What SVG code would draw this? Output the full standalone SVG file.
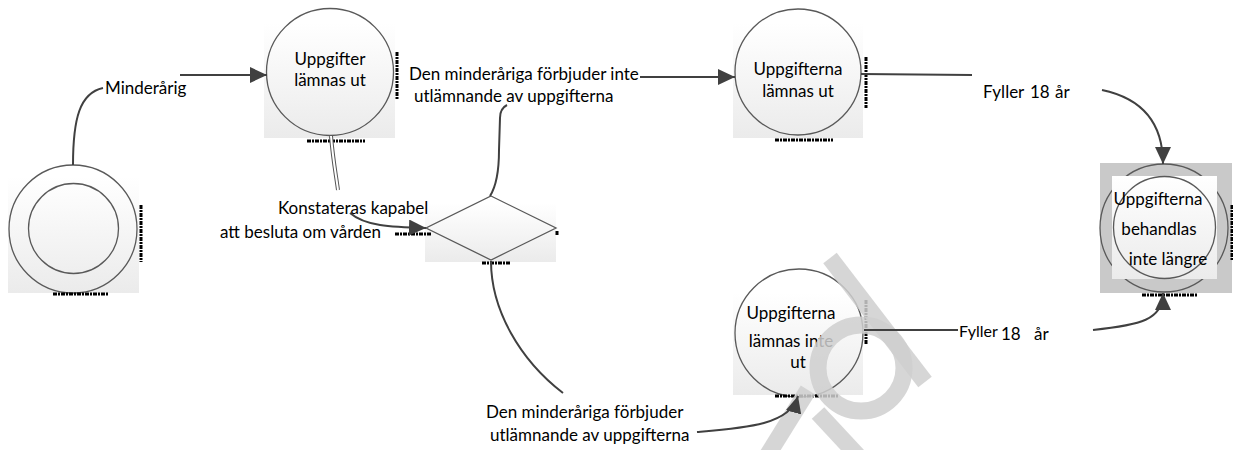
<svg xmlns="http://www.w3.org/2000/svg" width="1233" height="450" viewBox="0 0 1233 450">
<style>
.bg{fill:url(#gr)}
.ring{fill:none;stroke:#595959;stroke-width:1.3}
.conn{fill:none;stroke:#404040;stroke-width:2}
.art{stroke:#000;stroke-width:3;stroke-dasharray:4 1 2 1;fill:none}
.wm{fill:none;stroke:#cfcfcf;stroke-width:17;stroke-opacity:0.85}
text{font-family:Lato,"Liberation Sans",sans-serif;font-size:17px;fill:#000}
.c{text-anchor:middle}
</style>
<defs>
<linearGradient id="gr" x1="0" y1="0" x2="0" y2="1">
<stop offset="0" stop-color="#ffffff"/>
<stop offset="1" stop-color="#ebebeb"/>
</linearGradient>
<marker id="ah" markerUnits="userSpaceOnUse" markerWidth="18" markerHeight="16" refX="17" refY="8" orient="auto">
<path d="M0,0 L17,8 L0,16 z" fill="#404040"/>
</marker>
</defs>

<g id="start">
<rect class="bg" x="8" y="177" width="131" height="116"/>
<circle class="ring" cx="73" cy="229" r="64"/>
<circle class="ring" cx="73.5" cy="228.5" r="45"/>
<path class="art" d="M141,205 V262 M53,294 H108"/>
</g>

<g id="n1">
<rect class="bg" x="264" y="23" width="131" height="115"/>
<circle class="ring" cx="330" cy="72" r="63.5"/>
<text class="c" x="330" y="65">Uppgifter</text>
<text class="c" x="330" y="86">lämnas ut</text>
<path class="art" d="M397,52 V100 M307,141 H365"/>
</g>

<g id="decision">
<rect class="bg" x="425" y="203" width="131" height="59"/>
<path class="ring" d="M491,196 L556,228 L491,260 L426,228 z"/>
<path class="art" d="M395,234 H432 M557,231 V236 M482,263 H510"/>
</g>

<g id="n2">
<rect class="bg" x="733" y="23" width="130" height="115"/>
<circle class="ring" cx="798" cy="72" r="63"/>
<text class="c" x="798" y="75">Uppgifterna</text>
<text class="c" x="798" y="97">lämnas ut</text>
<path class="art" d="M866,57 V108 M775,140 H833"/>
</g>

<g id="n3">
<rect class="bg" x="733" y="293" width="130" height="102"/>
<circle class="ring" cx="799" cy="333" r="64"/>
<text class="c" x="791" y="319">Uppgifterna</text>
<text class="c" x="791" y="347">lämnas inte</text>
<text class="c" x="798" y="368">ut</text>
<path class="art" d="M866,300 V345 M775,396 H838"/>
</g>

<g id="end">
<rect x="1100" y="163" width="132" height="130" fill="#c9c9c9"/>
<circle class="ring" cx="1164" cy="228" r="64"/>
<rect class="bg" x="1112" y="176" width="105" height="103"/>
<circle class="ring" cx="1164.5" cy="227.5" r="51"/>
<text class="c" x="1158" y="205">Uppgifterna</text>
<text class="c" x="1159" y="235">behandlas</text>
<text class="c" x="1168" y="265">inte längre</text>
<path class="art" d="M1232,205 V260 M1142,295 H1198"/>
</g>

<g id="watermark">
<path class="wm" d="M830,258 L925,382"/>
<circle class="wm" cx="861" cy="368" r="43"/>
<path class="wm" d="M808,390 L767,456"/>
<path class="wm" d="M818,413 L858,456"/>
</g>

<g id="connectors">
<path class="conn" d="M73,165 C73,118 80,93 103,88"/>
<path class="conn" d="M180,75 L267,75" marker-end="url(#ah)"/>
<path d="M331,136 C333,160 336,175 338,190" fill="none" stroke="#555" stroke-width="4"/>
<path d="M331,136 C333,160 336,175 338,190" fill="none" stroke="#fff" stroke-width="2"/>
<path class="conn" d="M350,213 C365,226 390,227 426,228" marker-end="url(#ah)"/>
<path class="conn" d="M490,196 C497,185 499,165 499,150 L500,118 C500,110 503,107 507,105"/>
<path class="conn" d="M640,77 L735,77" marker-end="url(#ah)"/>
<path class="conn" d="M861,74 L972,75"/>
<path class="conn" d="M1102,90 C1140,98 1163,120 1163,164" marker-end="url(#ah)"/>
<path class="conn" d="M491,261 C491,310 520,360 563,393"/>
<path class="conn" d="M697,432 C745,428 790,425 798,396" marker-end="url(#ah)"/>
<path class="conn" d="M864,330 L958,330"/>
<path class="conn" d="M1093,330 C1140,325 1163,320 1163,293" marker-end="url(#ah)"/>
</g>

<g id="labels">
<text x="105" y="94">Minderårig</text>
<text x="409" y="80">Den minderåriga förbjuder inte</text>
<text x="414" y="102">utlämnande av uppgifterna</text>
<text x="278" y="214">Konstateras kapabel</text>
<text x="220" y="238">att besluta om vården</text>
<text x="983" y="98">Fyller</text>
<text x="1030" y="98">18</text>
<text x="1055" y="98">år</text>
<text x="959" y="337" style="font-size:16px">Fyller</text>
<text x="1001" y="340">18</text>
<text x="1034" y="340">år</text>
<text x="486" y="418">Den minderåriga förbjuder</text>
<text x="490" y="441">utlämnande av uppgifterna</text>
</g>
</svg>
